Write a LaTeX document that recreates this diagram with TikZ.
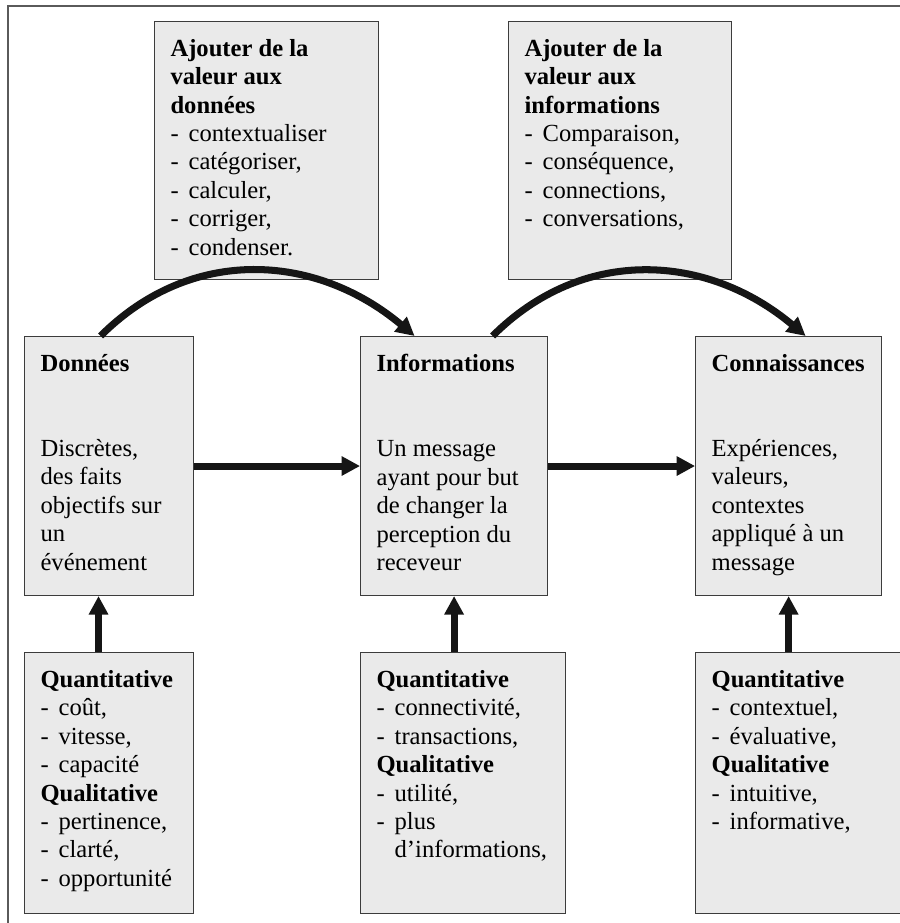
\documentclass[tikz,border=0pt]{standalone}
\usepackage{fontspec}
\setmainfont{Liberation Serif}
\usetikzlibrary{arrows.meta,positioning}
\definecolor{CadreGris}{HTML}{5A5A5A}
\definecolor{BoiteFond}{HTML}{EAEAEA}
\definecolor{BoiteTrait}{HTML}{3C3C3C}
\definecolor{FlecheNoir}{HTML}{151515}
\newcommand{\tiret}{\makebox[10.3pt][l]{-}}
\hyphenpenalty=10000

\begin{document}
\begin{tikzpicture}[every node/.style={font=\fontsize{14}{16.2}\selectfont}]
    \tikzset{boite/.style={draw=BoiteTrait,fill=BoiteFond,line width=0.6pt,
      inner xsep=0.32cm,inner ysep=0.35cm,anchor=north west},
      fleche/.style={-{Triangle[length=10.5pt,width=10.5pt]},line width=4pt,FlecheNoir}}
    \useasboundingbox (0,0) rectangle (18,18.46);
    \draw[CadreGris,line width=1.1pt] (0.16,0) -- (0.16,18.34) -- (18,18.34);
    % ligne du milieu
    \node[boite] (d) at (0.48,11.74) {\parbox[c][4.48cm][t]{2.74cm}{\textbf{Données}\\[2\baselineskip]
      Discrètes,\\des faits\\objectifs sur\\un\\événement}};
    \node[boite,right=3.32cm of d] (i) {\parbox[c][4.48cm][t]{3.10cm}{\textbf{Informations}\\[2\baselineskip]
      Un message\\ayant pour but\\de changer la\\perception du\\receveur}};
    \node[boite,right=2.94cm of i] (c) {\parbox[c][4.48cm][t]{3.08cm}{\textbf{Connaissances}\\[2\baselineskip]
      Expériences,\\valeurs,\\contextes\\appliqué à un\\message}};
    % valeur ajoutee
    \node[boite] (ad) at (3.08,18.04) {\parbox[c][4.46cm][t]{3.84cm}{\textbf{Ajouter de la}\\
      \textbf{valeur aux}\\\textbf{données}\\\tiret contextualiser\\\tiret catégoriser,\\
      \tiret calculer,\\\tiret corriger,\\\tiret condenser.}};
    \node[boite] (ai) at (10.16,18.04) {\parbox[c][4.46cm][t]{3.82cm}{\textbf{Ajouter de la}\\
      \textbf{valeur aux}\\\textbf{informations}\\\tiret Comparaison,\\\tiret conséquence,\\
      \tiret connections,\\\tiret conversations,}};
    % mesures
    \node[boite,below=1.12cm of d] (qd) {\parbox[c][4.52cm][t]{2.74cm}{\textbf{Quantitative}\\
      \tiret coût,\\\tiret vitesse,\\\tiret capacité\\\textbf{Qualitative}\\\tiret pertinence,\\
      \tiret clarté,\\\tiret opportunité}};
    \node[boite,below right=1.12cm and 0cm of i.south west] (qi) {\parbox[c][4.52cm][t]{3.46cm}{\textbf{Quantitative}\\
      \tiret connectivité,\\\tiret transactions,\\\textbf{Qualitative}\\\tiret utilité,\\
      \tiret plus\\\hspace*{10.3pt}d’informations,}};
    \node[boite,below right=1.12cm and 0cm of c.south west] (qc) {\parbox[c][4.52cm][t]{3.46cm}{\textbf{Quantitative}\\
      \tiret contextuel,\\\tiret évaluative,\\\textbf{Qualitative}\\\tiret intuitive,\\
      \tiret informative,}};
    \draw[fleche] (d) -- (i);
    \draw[fleche] (i) -- (c);
    \draw[fleche] ([xshift=-0.21cm]qd.north) -- ([xshift=-0.21cm]d.south);
    \draw[fleche] (qi.north -| i.south) -- (i.south);
    \draw[fleche] (qc.north -| c.south) -- (c.south);
    \draw[fleche] ([xshift=-0.17cm]d.north) to[out=45,in=140,looseness=1.05] ([xshift=-0.79cm]i.north);
    \draw[fleche] ([xshift=0.77cm]i.north) to[out=45,in=140,looseness=1.05] ([xshift=0.34cm]c.north);
\end{tikzpicture}
\end{document}
